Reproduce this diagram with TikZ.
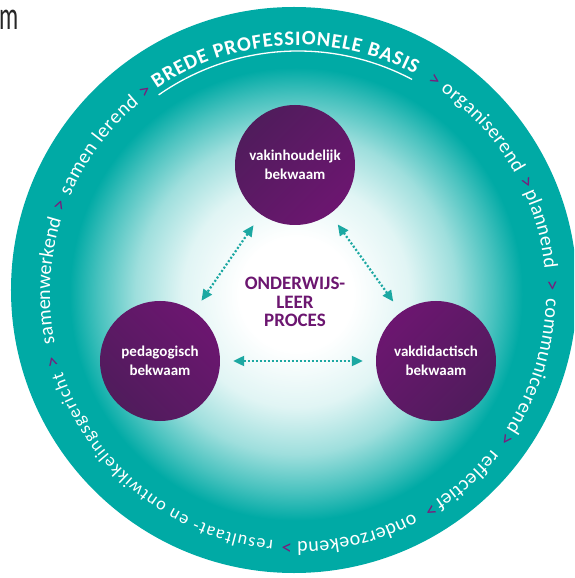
\documentclass[tikz,border=0pt]{standalone}
\usepackage{fontspec}
\setmainfont{Carlito}
\usetikzlibrary{arrows.meta,decorations.text,positioning}

\definecolor{ringteal}{RGB}{0,170,165}
\definecolor{arrowteal}{RGB}{28,168,162}
\definecolor{bekpurple}{RGB}{108,22,112}
\definecolor{bekdark}{RGB}{80,28,92}
\definecolor{chevron}{RGB}{120,30,125}

% white in the middle, teal towards the ring
\pgfdeclareradialshading{innerglow}{\pgfpoint{0bp}{0bp}}{%
  color(0bp)=(white); color(6bp)=(white); color(12bp)=(ringteal!12);
  color(17bp)=(ringteal!38); color(21bp)=(ringteal!72); color(24bp)=(ringteal);
  color(50bp)=(ringteal)}

\newcommand{\bredefont}{\fontsize{20.5}{20.5}\selectfont\bfseries}
% one word on the ring, centred on angle #2, spread over +-#3 degrees
\newcommand{\ringword}[4][20]{%
  \path[decorate, decoration={text along path, text align=fit to path, text color=white,
      text={|\fontsize{#1}{#1}\selectfont|#4}}]
    (#2+#3:248) arc[start angle=#2+#3, end angle=#2-#3, radius=248];}
% a purple chevron on the ring at angle #1
\newcommand{\ringsep}[1]{%
  \path[decorate, decoration={text along path, text align=center, text color=chevron,
      text={|\fontsize{21}{21}\selectfont|>}}]
    (#1+20:248) arc[start angle=#1+20, end angle=#1-20, radius=248];}

\tikzset{
  bekwaam/.style={circle, minimum size=120pt, inner sep=0pt, align=center,
    text=white, font=\fontsize{15}{19.5}\selectfont\bfseries,
    top color=bekpurple, bottom color=bekdark},
  proces/.style={align=center, text=bekpurple,
    font=\fontsize{19}{18.5}\selectfont\bfseries},
  link/.style={arrowteal, line width=2.2pt, dash pattern=on 2pt off 2pt,
    {Triangle[length=11pt,width=10pt]}-{Triangle[length=11pt,width=10pt]},
    shorten <=13pt, shorten >=13pt}
}

\begin{document}
\begin{tikzpicture}[x=1pt,y=1pt]
  \useasboundingbox (-294,290) rectangle (280,-288);
  \clip (-294,290) rectangle (280,-288);
  \fill[white] (-294,290) rectangle (280,-288);
  \node[anchor=base west, xscale=0.6, inner sep=0pt, text=black!85,
    font=\fontsize{40}{40}\selectfont] (cut) at (-295,260) {m};

  % the ring and the glow inside it
  \fill[ringteal] (0,0) circle[radius=283];
  \shade[shading=innerglow] (2,-4) circle[radius=236];

  % the words round the ring, clockwise
  \begin{scope}[shift={(4,-4)}]
    \path[decorate, decoration={text along path, text align=fit to path, text color=white,
        text={|\bredefont|BREDE PROFESSIONELE BASIS}}]
      (124.5:249) arc[start angle=124.5, end angle=62, radius=249];
    \draw[white, line width=1.3pt] (125:243) arc[start angle=125, end angle=62, radius=243];
    \ringsep{57.5}
    \ringword{42}{13}{organiserend}
    \ringsep{26}
    \ringword{15}{9.2}{plannend}
    \ringsep{2}
    \ringword{-17}{16}{communicerend}
    \ringsep{-35}
    \ringword{-47.7}{9}{reflectief}
    \ringsep{-58.5}
    \ringword{-76.2}{14}{onderzoekend}
    \ringsep{-92.5}
    \ringword[18]{231.3}{33}{resultaat- en ontwikkelingsgericht}
    \ringsep{195.5}
    \ringword{177}{14.4}{samenwerkend}
    \ringsep{159.5}
    \ringword{143.3}{13.5}{samen lerend}
    \ringsep{127}
  \end{scope}

  % the three circles
  \node[bekwaam, shading angle=-135] (vakinhoud) at (1,125) {vakinhoudelijk\\bekwaam};
  \node[bekwaam, shading angle=-45] (pedagogisch) at (-134,-71) {pedagogisch\\bekwaam};
  \node[bekwaam, shading angle=45] (vakdidactisch) at (142,-71) {vakdidactisch\\bekwaam};
  \node[proces] (proces) at (1,-12) {ONDERWIJS-\\LEER\\PROCES};

  \draw[link] (vakinhoud) -- (pedagogisch);
  \draw[link] (vakinhoud) -- (vakdidactisch);
  \draw[link] (pedagogisch) -- (vakdidactisch);
\end{tikzpicture}
\end{document}
